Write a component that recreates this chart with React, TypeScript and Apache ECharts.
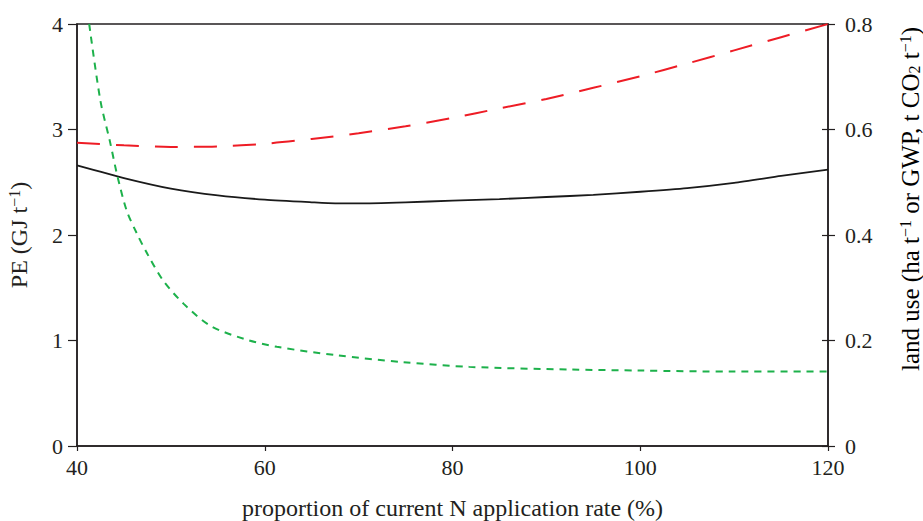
import React, { useEffect, useRef } from "react";
import * as echarts from "echarts";

const xTicks = [40, 60, 80, 100, 120];

// PE (GJ t-1), left axis
const peX = [40, 45, 50, 55, 60, 65, 67.5, 70, 75, 80, 85, 90, 95, 100, 105, 110, 115, 120];
const peY = [2.66, 2.54, 2.44, 2.375, 2.335, 2.31, 2.3, 2.3, 2.31, 2.325, 2.34, 2.36, 2.38, 2.41, 2.445, 2.495, 2.56, 2.62];

// GWP (t CO2 t-1), right axis
const gwpX = [40, 45, 50, 55, 60, 65, 70, 75, 80, 85, 90, 95, 100, 105, 110, 115, 120];
const gwpY = [0.575, 0.57, 0.567, 0.568, 0.573, 0.582, 0.593, 0.606, 0.622, 0.64, 0.658, 0.679, 0.701, 0.725, 0.75, 0.775, 0.8];

// land use (ha t-1), right axis
const luX = [41.3, 42.5, 43.5, 44.3, 45.3, 46.4, 47.5, 49.2, 51.4, 54.2, 57.8, 61.3, 67.7, 74.7, 81.8, 92.5, 100, 110, 120];
const luY = [0.8, 0.654, 0.578, 0.512, 0.446, 0.402, 0.364, 0.313, 0.269, 0.228, 0.203, 0.188, 0.172, 0.159, 0.15, 0.145, 0.143, 0.141, 0.141];

const zip = (xs: number[], ys: number[]) => xs.map((x, i) => [x, ys[i]]);

const FONT = "Liberation Serif";
const INK = "#231f20";

const makeRich = (size: number) => ({
  n: { fontFamily: FONT, fontSize: size, color: INK },
  sup: { fontFamily: FONT, fontSize: Math.round(size * 0.65), color: INK, verticalAlign: "top", padding: [0, 0, 9, 0] },
  sub: { fontFamily: FONT, fontSize: Math.round(size * 0.65), color: INK, verticalAlign: "bottom", padding: [7, 0, 0, 0] },
});

export default function App() {
  const ref = useRef<HTMLDivElement>(null);
  useEffect(() => {
    if (!ref.current) return;
    const chart = echarts.init(ref.current, undefined, { renderer: "svg" });
    chart.setOption({
      animation: false,
      grid: {
        left: 77,
        right: 95,
        top: 24,
        bottom: 75,
        outerBoundsMode: "none",
        containLabel: false,
        show: true,
        borderColor: INK,
        borderWidth: 1.5,
      },
      xAxis: {
        type: "value",
        min: 40,
        max: 120,
        interval: 20,
        splitLine: { show: false },
        axisLine: { lineStyle: { color: INK, width: 1.5 } },
        axisTick: { length: 5, lineStyle: { color: INK, width: 1.2 } },
        axisLabel: {
          margin: 10,
          fontFamily: FONT,
          fontSize: 22,
          color: INK,
          customValues: xTicks,
        },
        name: "proportion of current N application rate (%)",
        nameLocation: "middle",
        nameGap: 50,
        nameTextStyle: { fontFamily: FONT, fontSize: 24, color: INK },
      },
      yAxis: [
        {
          type: "value",
          min: 0,
          max: 4,
          interval: 1,
          position: "left",
          splitLine: { show: false },
          axisLine: { show: true, lineStyle: { color: INK, width: 1.5 } },
          axisTick: { show: true, length: 9, lineStyle: { color: INK, width: 1.2 } },
          axisLabel: { margin: 14, fontFamily: FONT, fontSize: 22, color: INK },
          name: "{n|PE (GJ t}{sup|−1}{n|)}",
          nameLocation: "middle",
          nameGap: 46,
          nameTextStyle: { rich: makeRich(24) },
        },
        {
          type: "value",
          min: 0,
          max: 0.8,
          interval: 0.2,
          position: "right",
          splitLine: { show: false },
          axisLine: { show: true, lineStyle: { color: INK, width: 1.5 } },
          axisTick: { show: true, length: 7, lineStyle: { color: INK, width: 1.2 } },
          axisLabel: {
            margin: 17,
            fontFamily: FONT,
            fontSize: 22,
            color: INK,
            formatter: (v: number) => (v === 0 ? "0" : v.toFixed(1)),
          },
        },
        {
          type: "value",
          min: 0,
          max: 0.8,
          interval: 0.2,
          position: "right",
          splitLine: { show: false },
          axisLine: { show: false },
          axisTick: { show: true, inside: true, length: 6, lineStyle: { color: INK, width: 1.2 } },
          axisLabel: { show: false },
        },
      ],
      graphic: [
        {
          type: "text",
          x: 910,
          y: 199,
          rotation: Math.PI / 2,
          style: {
            text: "{n|land use (ha t}{sup|−1}{n| or GWP, t CO}{sub|2}{n| t}{sup|−1}{n|)}",
            rich: makeRich(25),
            align: "center",
            verticalAlign: "middle",
          },
        },
      ],
      series: [
        {
          type: "line",
          name: "PE",
          yAxisIndex: 0,
          data: zip(peX, peY),
          showSymbol: false,
          smooth: 0.2,
          lineStyle: { color: "#1a1a1a", width: 1.8 },
        },
        {
          type: "line",
          name: "GWP",
          yAxisIndex: 1,
          data: zip(gwpX, gwpY),
          showSymbol: false,
          smooth: 0.3,
          lineStyle: { color: "#ee1c25", width: 2, type: [23, 16] },
        },
        {
          type: "line",
          name: "land use",
          yAxisIndex: 1,
          data: zip(luX, luY),
          showSymbol: false,
          smooth: 0.3,
          lineStyle: { color: "#1db14b", width: 2, type: [7, 6] },
        },
      ],
    });
    return () => chart.dispose();
  }, []);
  return <div ref={ref} style={{ width: 923, height: 521, position: "absolute", left: 0, top: 0 }} />;
}
